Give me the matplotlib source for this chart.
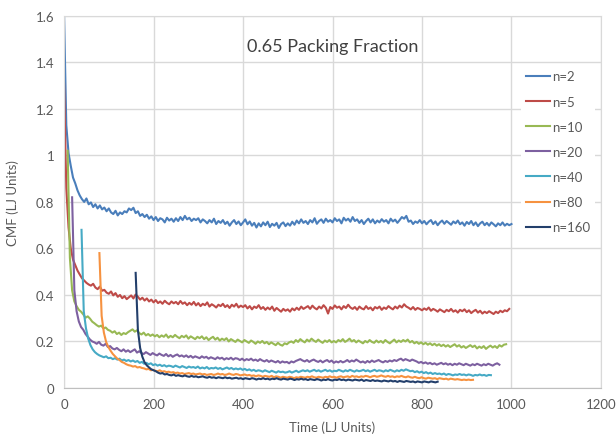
import numpy as np
import matplotlib
matplotlib.use("Agg")
import matplotlib.pyplot as plt

plt.rcParams['font.family'] = ['Lato', 'DejaVu Sans']

# CMF values in thousandths of LJ units, sampled every 5 time units
step = 5
labels = ["n=2", "n=5", "n=10", "n=20", "n=40", "n=80", "n=160"]
starts = [0, 0, 8, 18, 39, 79, 160]
colors = ["#4A7EBB", "#BE4B48", "#98B954", "#7D60A0", "#46AAC5", "#F69240", "#233F6B"]

n2 = [1600, 1130, 1010, 955, 905, 880, 850, 828, 812, 800,
      815, 790, 798, 778, 790, 772, 785, 768, 776, 760,
      772, 755, 748, 762, 742, 755, 748, 760, 755, 772,
      765, 775, 752, 760, 740, 748, 735, 745, 728, 738,
      722, 735, 718, 730, 725, 712, 732, 720, 728, 715,
      730, 718, 735, 722, 740, 725, 732, 718, 728, 722,
      730, 712, 725, 718, 708, 722, 712, 728, 705, 718,
      710, 722, 705, 715, 698, 712, 722, 705, 716, 700,
      712, 725, 704, 716, 698, 710, 690, 708, 695, 712,
      700, 715, 692, 706, 698, 710, 688, 705, 712, 696,
      708, 698, 715, 702, 720, 708, 725, 710, 718, 705,
      722, 712, 730, 706, 718, 725, 710, 728, 715, 722,
      712, 730, 718, 725, 708, 732, 720, 728, 715, 735,
      718, 725, 710, 722, 705, 718, 728, 712, 725, 708,
      720, 712, 726, 715, 722, 708, 728, 716, 724, 710,
      722, 735, 728, 740, 715, 720, 705, 716, 710, 722,
      708, 718, 704, 715, 722, 705, 716, 700, 712, 720,
      706, 718, 710, 702, 716, 708, 720, 704, 712, 698,
      714, 705, 718, 700, 712, 696, 708, 715, 700, 710,
      698, 712, 704, 695, 708, 700, 712, 698, 706, 700,
      705]

n5 = [1310, 860, 690, 600, 552, 528, 505, 488, 472, 462,
      452, 445, 440, 448, 432, 425, 436, 418, 422, 410,
      405, 415, 398, 408, 392, 400, 386, 395, 382, 390,
      398, 385, 402, 392, 380, 388, 376, 385, 372, 380,
      368, 378, 365, 372, 362, 375, 366, 360, 372, 364,
      370, 360, 374, 362, 368, 356, 366, 358, 370, 355,
      365, 352, 362, 356, 368, 350, 360, 354, 346, 358,
      352, 362, 348, 356, 344, 358, 350, 362, 346, 354,
      348, 356, 342, 352, 338, 350, 344, 356, 340, 348,
      336, 346, 338, 350, 332, 344, 336, 328, 340, 332,
      338, 328, 342, 334, 345, 336, 350, 340, 346, 352,
      340, 354, 344, 338, 350, 342, 356, 345, 320, 348,
      340, 355, 345, 350, 338, 352, 344, 358, 346, 340,
      348, 336, 350, 342, 338, 352, 340, 346, 334, 348,
      342, 350, 336, 346, 340, 352, 344, 338, 350, 342,
      354, 346, 360, 350, 345, 338, 348, 336, 344, 340,
      334, 342, 336, 346, 332, 340, 335, 328, 338, 332,
      326, 336, 330, 340, 328, 334, 324, 336, 330, 338,
      326, 334, 322, 330, 336, 324, 332, 320, 328, 322,
      330, 324, 318, 328, 322, 332, 326, 334, 330, 340]

n10 = [1020, 560, 420, 372, 352, 336, 328, 316, 302, 308,
       298, 285, 278, 270, 264, 268, 256, 260, 250, 246,
       238, 244, 232, 238, 228, 236, 232, 240, 246, 252,
       242, 248, 236, 230, 238, 226, 232, 224, 230, 222,
       228, 218, 226, 220, 230, 216, 224, 218, 228, 220,
       214, 224, 218, 226, 212, 222, 216, 210, 220, 214,
       222, 210, 218, 206, 214, 220, 208, 216, 204, 212,
       206, 214, 200, 210, 204, 198, 208, 202, 196, 206,
       200, 194, 204, 198, 190, 200, 194, 202, 192, 198,
       188, 196, 190, 184, 194, 186, 182, 192, 188, 196,
       200, 194, 206, 198, 210, 202, 196, 208, 200, 212,
       204, 198, 208, 200, 194, 204, 198, 206, 196, 202,
       196, 206, 200, 210, 198, 204, 212, 200, 206, 196,
       204, 198, 192, 202, 196, 206, 198, 194, 204, 196,
       202, 194, 206, 198, 192, 200, 208, 196, 204, 198,
       206, 200, 208, 196, 202, 192, 198, 190, 196, 188,
       194, 186, 192, 184, 190, 182, 188, 180, 186, 178,
       184, 176, 182, 188, 178, 184, 174, 180, 172, 178,
       184, 176, 182, 170, 178, 172, 180, 168, 176, 182,
       174, 180, 172, 184, 178, 186, 188]

n20 = [820, 420, 330, 286, 262, 250, 232, 220, 208, 200,
       196, 190, 198, 186, 182, 190, 176, 180, 170, 166,
       172, 164, 158, 166, 156, 162, 154, 160, 166, 152,
       158, 150, 146, 154, 148, 142, 150, 144, 140, 148,
       142, 138, 146, 136, 142, 134, 140, 144, 136, 140,
       134, 140, 132, 138, 130, 136, 132, 128, 136, 130,
       134, 126, 132, 128, 124, 132, 126, 130, 122, 128,
       124, 130, 122, 128, 126, 120, 126, 118, 124, 120,
       126, 118, 122, 116, 124, 118, 114, 120, 112, 118,
       114, 110, 116, 108, 114, 110, 112, 106, 114, 110,
       116, 120, 124, 118, 114, 120, 112, 118, 122, 116,
       112, 118, 110, 116, 120, 112, 118, 108, 114, 110,
       116, 110, 114, 120, 112, 118, 114, 122, 116, 110,
       114, 108, 116, 110, 118, 112, 116, 120, 114, 110,
       116, 112, 118, 114, 120, 116, 122, 126, 118, 124,
       120, 116, 122, 118, 114, 108, 112, 106, 110, 104,
       108, 102, 106, 100, 104, 108, 102, 106, 100, 104,
       98, 104, 100, 106, 102, 98, 104, 100, 96, 102,
       98, 104, 100, 96, 102, 98, 104, 100, 96, 102,
       106, 100]

n40 = [680, 330, 256, 212, 184, 166, 154, 146, 140, 136,
       132, 136, 128, 130, 124, 128, 122, 126, 118, 122,
       116, 120, 114, 118, 112, 116, 108, 112, 104, 108,
       102, 106, 98, 102, 96, 100, 94, 98, 92, 96,
       94, 90, 96, 92, 88, 94, 90, 86, 92, 88,
       90, 86, 92, 84, 88, 84, 90, 82, 86, 84,
       88, 82, 86, 80, 84, 88, 82, 86, 80, 84,
       80, 84, 78, 82, 76, 80, 74, 78, 72, 76,
       74, 70, 76, 72, 68, 74, 70, 66, 72, 68,
       70, 66, 68, 72, 66, 70, 74, 68, 72, 76,
       72, 76, 70, 74, 78, 72, 76, 70, 74, 78,
       72, 76, 70, 74, 72, 78, 74, 70, 76, 72,
       78, 74, 70, 76, 72, 74, 78, 72, 76, 70,
       74, 78, 72, 76, 74, 70, 76, 72, 78, 74,
       70, 76, 72, 78, 74, 80, 76, 72, 74, 68,
       72, 66, 70, 64, 68, 62, 66, 60, 64, 60,
       62, 58, 62, 56, 60, 58, 54, 58, 56, 60,
       56, 58, 54, 58, 56, 52, 56, 54, 58, 54,
       56, 52, 56, 55]

n80 = [580, 310, 238, 198, 176, 160, 146, 136, 126, 120,
       112, 108, 102, 98, 96, 92, 94, 88, 90, 86,
       84, 80, 82, 76, 78, 74, 72, 76, 70, 72,
       68, 70, 66, 68, 64, 66, 62, 64, 60, 62,
       64, 60, 62, 58, 60, 62, 58, 60, 56, 58,
       60, 56, 58, 62, 58, 60, 56, 58, 62, 58,
       56, 60, 58, 54, 56, 58, 54, 56, 52, 54,
       50, 54, 52, 48, 52, 50, 48, 52, 46, 50,
       48, 44, 48, 46, 44, 48, 46, 42, 46, 44,
       48, 46, 44, 48, 46, 50, 46, 44, 48, 46,
       44, 48, 46, 50, 46, 48, 44, 48, 50, 46,
       48, 50, 46, 52, 48, 50, 46, 50, 48, 52,
       50, 46, 50, 52, 48, 50, 54, 50, 48, 52,
       48, 50, 46, 50, 48, 52, 48, 46, 50, 46,
       44, 48, 44, 42, 46, 42, 40, 44, 42, 40,
       42, 38, 42, 40, 38, 40, 36, 40, 38, 36,
       38, 36, 34, 36, 34, 36, 34, 35]

n160 = [495, 250, 172, 134, 110, 97, 88, 80, 76, 72,
        66, 62, 64, 58, 60, 56, 54, 58, 52, 55,
        52, 50, 54, 50, 48, 52, 48, 50, 46, 48,
        50, 46, 44, 48, 44, 46, 42, 46, 44, 42,
        46, 42, 44, 40, 42, 44, 40, 42, 38, 42,
        40, 38, 42, 40, 36, 40, 38, 42, 38, 40,
        36, 40, 38, 42, 38, 36, 40, 38, 36, 40,
        38, 34, 38, 36, 40, 36, 38, 34, 38, 36,
        34, 38, 36, 32, 36, 34, 38, 34, 32, 36,
        34, 38, 34, 36, 32, 36, 34, 32, 36, 34,
        32, 36, 30, 34, 32, 30, 34, 30, 32, 30,
        28, 32, 30, 28, 32, 28, 30, 26, 30, 28,
        26, 30, 28, 26, 28, 24, 28, 26, 24, 28,
        26, 24, 28, 26, 24, 27]

series = [n2, n5, n10, n20, n40, n80, n160]

x_ticks = [0, 200, 400, 600, 800, 1000, 1200]
y_ticks = [0, 0.2, 0.4, 0.6, 0.8, 1.0, 1.2, 1.4, 1.6]
y_tick_labels = ["0", "0.2", "0.4", "0.6", "0.8", "1", "1.2", "1.4", "1.6"]

fig = plt.figure(figsize=(6.16, 4.39), dpi=100)
ax = fig.add_axes([0.104, 0.114, 0.8716, 0.8474])

for vals, t0, lab, col in zip(series, starts, labels, colors):
    t = t0 + step * np.arange(len(vals))
    ax.plot(t, np.array(vals) / 1000.0, color=col, lw=1.5, label=lab,
            solid_joinstyle="round")

ax.set_xlim(0, 1200)
ax.set_ylim(0, 1.6)
ax.set_xticks(x_ticks)
ax.set_yticks(y_ticks)
ax.set_yticklabels(y_tick_labels)
ax.tick_params(length=0, labelsize=9.5, labelcolor="#595959", pad=7)
ax.grid(True, color="#D9D9D9", lw=1)
ax.set_axisbelow(True)
for s in ["top", "right", "left"]:
    ax.spines[s].set_color("#D9D9D9")
ax.spines["bottom"].set_color("#BFBFBF")

ax.set_xlabel("Time (LJ Units)", fontsize=9.5, color="#595959", labelpad=8)
ax.set_ylabel("CMF (LJ Units)", fontsize=9.5, color="#595959", labelpad=12)

ax.text(0.5, 0.919, "0.65 Packing Fraction", transform=ax.transAxes,
        ha="center", va="center", fontsize=13, color="#404040")

leg = ax.legend(loc="upper left", bbox_to_anchor=(0.851, 0.868),
                frameon=True, fancybox=False, borderaxespad=0, borderpad=0.4,
                handlelength=1.8, handletextpad=0.15, labelspacing=1.0,
                fontsize=9.5)
leg.get_frame().set_facecolor("white")
leg.get_frame().set_edgecolor("none")
leg.get_frame().set_alpha(1)
for txt in leg.get_texts():
    txt.set_color("#595959")

fig.savefig("out.png", dpi=100)
